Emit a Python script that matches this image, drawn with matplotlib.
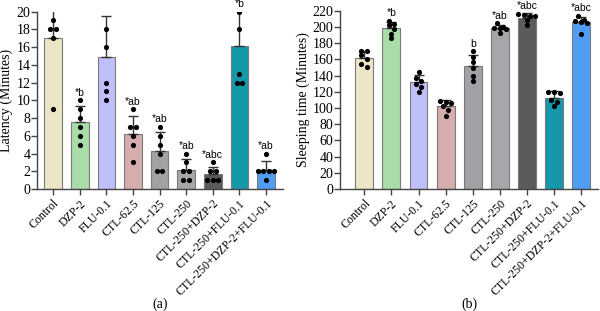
import numpy as np
import matplotlib.pyplot as plt

plt.rcParams["font.family"] = ["Liberation Serif", "DejaVu Serif"]

groups = [
    "Control",
    "DZP-2",
    "FLU-0.1",
    "CTL-62.5",
    "CTL-125",
    "CTL-250",
    "CTL-250+DZP-2",
    "CTL-250+FLU-0.1",
    "CTL-250+DZP-2+FLU-0.1",
]
colors = [
    "#ece5c6",
    "#a9dca8",
    "#bfbffa",
    "#d6adad",
    "#a2a2a6",
    "#a6a6ab",
    "#5b5b5d",
    "#1498aa",
    "#4f9df2",
]

# individual animals (latency, minutes) - some values fall above the 20 min axis
latency = [
    [21, 19, 18, 18, 17, 9],
    [10, 9, 8, 7, 6, 5],
    [22, 18, 16, 12, 11, 10],
    [9, 7, 7, 6, 5, 3],
    [7, 6, 5, 4, 2, 2],
    [4, 3, 2, 2, 1, 1],
    [3, 2, 2, 1, 1, 1],
    [22, 20, 18, 13, 12, 12],
    [4, 2, 2, 2, 2, 1],
]
latency_marks = ["", "*b", "", "*ab", "*ab", "*ab", "*abc", "*b", "*ab"]

# individual animals (sleeping time, minutes)
sleeping = [
    [171, 170, 165, 160, 155, 151],
    [208, 204, 202, 198, 192, 186],
    [145, 137, 133, 130, 126, 120],
    [109, 108, 106, 103, 98, 90],
    [170, 163, 157, 150, 140, 134],
    [205, 200, 199, 199, 198, 193],
    [216, 215, 214, 214, 209, 203],
    [120, 120, 119, 110, 107, 102],
    [214, 209, 208, 206, 205, 192],
]
sleeping_marks = ["", "*b", "", "", "b", "*ab", "*abc", "", "*abc"]


def swarm_offsets(vals, gap, step=0.21):
    # spread dots that would overlap side by side
    order = np.argsort(vals)[::-1]
    offs = np.zeros(len(vals))
    cluster = [order[0]]
    for idx in list(order[1:]) + [None]:
        if idx is not None and abs(vals[cluster[0]] - vals[idx]) < gap:
            cluster.append(idx)
            continue
        n = len(cluster)
        for k, c in enumerate(cluster):
            offs[c] = (k - (n - 1) / 2) * step
        if idx is not None:
            cluster = [idx]
    return offs


def draw_panel(ax, data, marks, ymax, ystep, ylabel, panel_label, gap, pad, xlim):
    x = np.arange(len(groups))
    means = [np.mean(d) for d in data]
    sds = [np.std(d, ddof=1) for d in data]
    ax.bar(x, means, width=0.66, color=colors, edgecolor="#7a7a7a", linewidth=0.8, zorder=2)
    ax.errorbar(
        x,
        means,
        yerr=[np.zeros(len(x)), sds],
        fmt="none",
        ecolor="#333333",
        elinewidth=1,
        capsize=3.5,
        capthick=1,
        zorder=3,
    )
    for i, d in enumerate(data):
        d = np.array(d, dtype=float)
        ax.scatter(x[i] + swarm_offsets(d, gap), d, s=14, color="black", zorder=4, linewidths=0)
        if marks[i]:
            top = min(max(d.max(), means[i] + sds[i]), ymax)
            ax.text(
                x[i], top + pad, marks[i], ha="center", va="bottom",
                fontsize=7.5, family="Liberation Sans", clip_on=False,
            )

    ax.set_ylim(0, ymax)
    ax.set_xlim(*xlim)
    ax.set_yticks(np.arange(0, ymax + 1, ystep))
    ax.set_xticks(x)
    ax.set_xticklabels(groups, rotation=45, ha="right", rotation_mode="anchor", fontsize=8.5)
    ax.tick_params(axis="y", labelsize=10, length=4, width=1, color="#444444", pad=1)
    ax.tick_params(axis="x", length=4, width=1, color="#444444", pad=2)
    ax.set_ylabel(ylabel, fontsize=10, labelpad=2)
    for s in ["top", "right"]:
        ax.spines[s].set_visible(False)
    for s in ["left", "bottom"]:
        ax.spines[s].set_color("#444444")
        ax.spines[s].set_linewidth(1)
    ax.text(0.5, -0.648, panel_label, transform=ax.transAxes, ha="center", va="center", fontsize=10)


fig = plt.figure(figsize=(6, 3.11), dpi=100)
ax1 = fig.add_axes([0.062, 0.392, 0.41, 0.571])
ax2 = fig.add_axes([0.567, 0.392, 0.43, 0.573])

draw_panel(ax1, latency, latency_marks, 20, 2, "Latency (Minutes)", "(a)", 0.55, 0.3, (-0.6, 8.65))
draw_panel(ax2, sleeping, sleeping_marks, 220, 20, "Sleeping time (Minutes)", "(b)", 5.5, 3, (-0.89, 8.63))

fig.savefig("out.png", dpi=100)
